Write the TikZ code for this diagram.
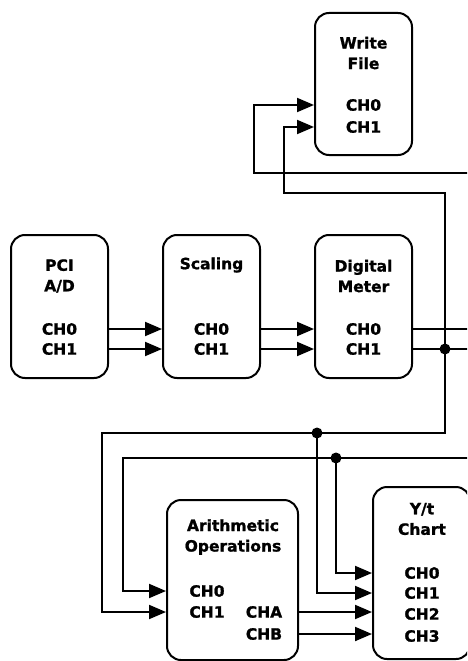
\documentclass[tikz,border=0pt]{standalone}
\usepackage{fontspec}
\setmainfont{DejaVu Sans}[BoldFeatures={FakeBold=1.2}]
\usetikzlibrary{arrows.meta,positioning,calc}

\tikzset{
  blk/.style={draw, line width=2pt, rounded corners=14pt, inner sep=0pt, minimum width=97, minimum height=143},
  lbl/.style={font=\bfseries\fontsize{15.5}{20.5}\selectfont, align=center, inner sep=0pt},
  wire/.style={line width=2pt},
  arr/.style={wire, -{Triangle[length=17pt,width=14pt]}},
  jdot/.style={circle, fill, inner sep=0pt, minimum size=11pt}
}

\begin{document}
\begin{tikzpicture}[x=1pt,y=-1pt]
\useasboundingbox (0,0) rectangle (467,661);
\clip (0,0) rectangle (467,661);

% blocks
\node[blk, minimum height=142] (wf) at (363.5,84) {};
\node[blk] (pci) at (59.5,306.5) {};
\node[blk] (scl) at (211.5,306.5) {};
\node[blk] (dm) at (363.5,306.5) {};
\node[blk, minimum width=131, minimum height=160] (ar) at (232.5,580) {};
\node[blk, minimum height=172] (yt) at (421.5,573) {};

% texts
\node[lbl] (wfT) at (363.5,53) {Write\\File};
\node[lbl] (wf0) at (363.5,105) {CH0};
\node[lbl] (wf1) at (363.5,127) {CH1};
\node[lbl] (pciT) at (59.5,276) {PCI\\A/D};
\node[lbl] (pci0) at (59.5,329) {CH0};
\node[lbl] (pci1) at (59.5,349) {CH1};
\node[lbl] (sclT) at (211.5,265) {Scaling};
\node[lbl] (scl0) at (211.5,329) {CH0};
\node[lbl] (scl1) at (211.5,349) {CH1};
\node[lbl] (dmT) at (363.5,276) {Digital\\Meter};
\node[lbl] (dm0) at (363.5,329) {CH0};
\node[lbl] (dm1) at (363.5,349) {CH1};
\node[lbl] (arT) at (233,537) {Arithmetic\\Operations};
\node[lbl] (ar0) at (207,591) {CH0};
\node[lbl] (ar1) at (207,612) {CH1};
\node[lbl] (arA) at (264,612) {CHA};
\node[lbl] (arB) at (264,634) {CHB};
\node[lbl] (ytT) at (422,519) {Y/t\\Chart};
\node[lbl] (yt0) at (422,573) {CH0};
\node[lbl] (yt1) at (422,593) {CH1};
\node[lbl] (yt2) at (422,614) {CH2};
\node[lbl] (yt3) at (422,636) {CH3};

% junctions and off-page ends
\node[jdot] (j1) at (445,349) {};
\node[jdot] (j2) at (317,433) {};
\node[jdot] (j3) at (336,458) {};
\coordinate (offA) at (470,329);
\coordinate (offB) at (470,349);
\coordinate (offC) at (470,458);
\coordinate (offD) at (470,173);

% connections
\draw[arr] (pci0 -| pci.east) -- (pci0 -| scl.west);
\draw[arr] (pci1 -| pci.east) -- (pci1 -| scl.west);
\draw[arr] (scl0 -| scl.east) -- (scl0 -| dm.west);
\draw[arr] (scl1 -| scl.east) -- (scl1 -| dm.west);
\draw[wire] (dm0 -| dm.east) -- (offA);
\draw[wire] (dm1 -| dm.east) -- (offB);
\draw[arr] (j1.center) -- (445,193) -- (284,193) |- (wf1 -| wf.west);
\draw[arr] (offD) -- (254,173) |- (wf0 -| wf.west);
\draw[arr] (j1.center) -- (445,433) -- (102,433) |- (ar1 -| ar.west);
\draw[arr] (j2.center) |- (yt1 -| yt.west);
\draw[arr] (offC) -- (123,458) |- (ar0 -| ar.west);
\draw[arr] (j3.center) |- (yt0 -| yt.west);
\draw[arr] (arA -| ar.east) -- (arA -| yt.west);
\draw[arr] (arB -| ar.east) -- (arB -| yt.west);
\end{tikzpicture}
\end{document}
